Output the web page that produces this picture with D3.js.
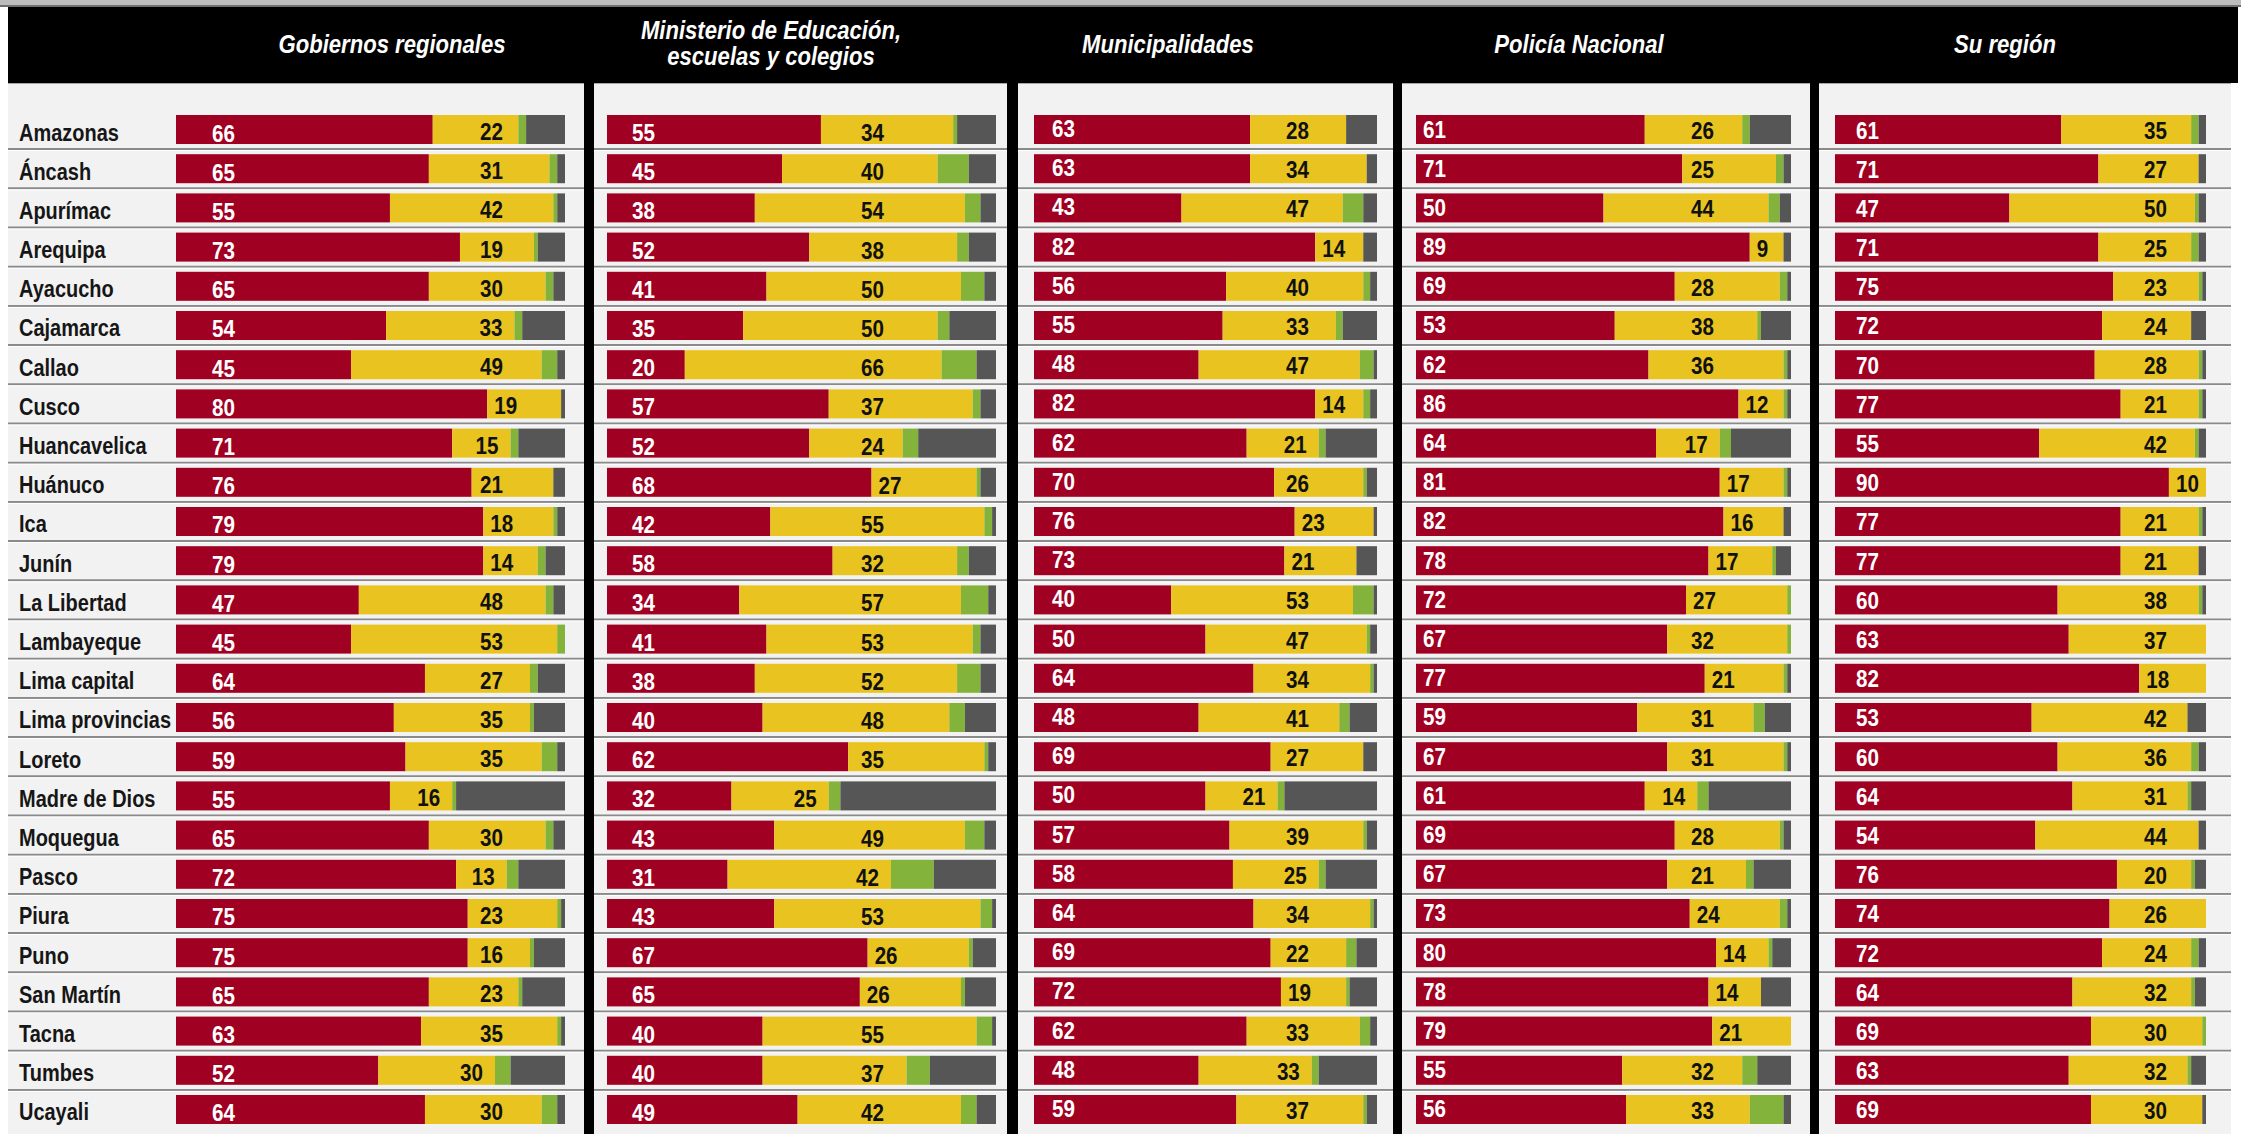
<!DOCTYPE html>
<html><head><meta charset="utf-8">
<script src="https://cdn.jsdelivr.net/npm/d3@7"></script>
<style>
html,body{margin:0;padding:0;background:#fff;}
svg{display:block;}
text{font-family:"Liberation Sans", Arial, "DejaVu Sans", sans-serif;font-weight:bold;}
</style></head><body>
<svg id="chart" width="2241" height="1134"></svg>
<script>
// ---------- DATA ----------
const regions = ["Amazonas","Áncash","Apurímac","Arequipa","Ayacucho","Cajamarca","Callao","Cusco","Huancavelica","Huánuco","Ica","Junín","La Libertad","Lambayeque","Lima capital","Lima provincias","Loreto","Madre de Dios","Moquegua","Pasco","Piura","Puno","San Martín","Tacna","Tumbes","Ucayali"];
const panelTitles = [["Gobiernos regionales"],["Ministerio de Educación,","escuelas y colegios"],["Municipalidades"],["Policía Nacional"],["Su región"]];
const seriesKeys = ["red","yellow","green","grey"];

const gobRed    = [66,65,55,73,65,54,45,80,71,76,79,79,47,45,64,56,59,55,65,72,75,75,65,63,52,64];
const gobYellow = [22,31,42,19,30,33,49,19,15,21,18,14,48,53,27,35,35,16,30,13,23,16,23,35,30,30];
const gobGreen  = [2,2,1,1,2,2,4,0,2,0,1,2,2,2,2,1,4,1,2,3,1,1,1,1,4,4];
const gobGrey   = [10,2,2,7,3,11,2,1,12,3,2,5,3,0,7,8,2,28,3,12,1,8,11,1,14,2];

const minRed    = [55,45,38,52,41,35,20,57,52,68,42,58,34,41,38,40,62,32,43,31,43,67,65,40,40,49];
const minYellow = [34,40,54,38,50,50,66,37,24,27,55,32,57,53,52,48,35,25,49,42,53,26,26,55,37,42];
const minGreen  = [1,8,4,3,6,3,9,2,4,1,2,3,7,2,6,4,1,3,5,11,3,1,1,4,6,4];
const minGrey   = [10,7,4,7,3,12,5,4,20,4,1,7,2,4,4,8,2,40,3,16,1,6,8,1,17,5];

const munRed    = [63,63,43,82,56,55,48,82,62,70,76,73,40,50,64,48,69,50,57,58,64,69,72,62,48,59];
const munYellow = [28,34,47,14,40,33,47,14,21,26,23,21,53,47,34,41,27,21,39,25,34,22,19,33,33,37];
const munGreen  = [0,0,6,0,2,2,4,2,2,1,0,0,6,1,1,3,0,2,1,2,1,3,1,3,2,1];
const munGrey   = [9,3,4,4,2,10,1,2,15,3,1,6,1,2,1,8,4,27,3,15,1,6,8,2,17,3];

const polRed    = [61,71,50,89,69,53,62,86,64,81,82,78,72,67,77,59,67,61,69,67,73,80,78,79,55,56];
const polYellow = [26,25,44,9,28,38,36,12,17,17,16,17,27,32,21,31,31,14,28,21,24,14,14,21,32,33];
const polGreen  = [2,2,3,0,2,1,1,1,3,1,0,1,1,1,1,3,1,3,1,2,2,1,0,0,4,9];
const polGrey   = [11,2,3,2,1,8,1,1,16,1,2,4,0,0,1,7,1,22,2,10,1,5,8,0,9,2];

const regRed    = [61,71,47,71,75,72,70,77,55,90,77,77,60,63,82,53,60,64,54,76,74,72,64,69,63,69];
const regYellow = [35,27,50,25,23,24,28,21,42,10,21,21,38,37,18,42,36,31,44,20,26,24,32,30,32,30];
const regGreen  = [2,0,1,2,1,0,1,1,1,0,1,0,1,0,0,0,2,1,0,1,0,2,1,1,1,0];
const regGrey   = [2,2,2,2,1,4,1,1,2,0,1,2,1,0,0,5,2,4,2,3,0,2,3,0,4,1];

const panelSeries = [
  [gobRed,gobYellow,gobGreen,gobGrey],
  [minRed,minYellow,minGreen,minGrey],
  [munRed,munYellow,munGreen,munGrey],
  [polRed,polYellow,polGreen,polGrey],
  [regRed,regYellow,regGreen,regGrey]
];

// ---------- LAYOUT / STYLE ----------
const W = 2241, H = 1134;
const colors = {red:"#a00022", yellow:"#e9c420", green:"#84b33c", grey:"#565656"};
const layout = [
  {box:[8,584],     bar:[176,565],   title:392,  redDx:36, redDy:26.5, yelEnd:503,  yelDy:25},
  {box:[594,1007],  bar:[607,996],   title:771,  redDx:25, redDy:26,   yelEnd:884,  yelDy:26},
  {box:[1018,1393], bar:[1034,1377], title:1168, redDx:18, redDy:22,   yelEnd:1309, yelDy:24},
  {box:[1402,1810], bar:[1416,1791], title:1579, redDx:7,  redDy:22.5, yelEnd:1714, yelDy:24},
  {box:[1819,2231], bar:[1835,2206], title:2005, redDx:21, redDy:23.5, yelEnd:2167, yelDy:24}
];
const SXN = 0.86, SXL = 0.85, SXH = 0.85;

const svg = d3.select("#chart");

// background structure
svg.append("rect").attr("x",0).attr("y",0).attr("width",W).attr("height",6).attr("fill","#bdbdbd");
svg.append("rect").attr("x",0).attr("y",5).attr("width",W).attr("height",2).attr("fill","#6f6f6f");
svg.append("rect").attr("x",8).attr("y",7).attr("width",2230).attr("height",76).attr("fill","#000");
svg.append("rect").attr("x",8).attr("y",82).attr("width",2223).attr("height",H-82).attr("fill","#000");

const y = d3.scaleBand().domain(regions).range([115,1124]).paddingInner(0.26).paddingOuter(0);
const bw = y.bandwidth();

layout.forEach((L,pi)=>{
  svg.append("rect").attr("x",L.box[0]).attr("y",83).attr("width",L.box[1]-L.box[0]).attr("height",H-83).attr("fill","#f2f2f2");
  svg.append("line").attr("x1",L.box[0]).attr("x2",L.box[1]).attr("y1",83.5).attr("y2",83.5).attr("stroke","#a5a5a5").attr("stroke-width",1);
});

// row separators
layout.forEach(L=>{
  regions.slice(0,-1).forEach(r=>{
    const yy = y(r) + bw + (y.step()-bw)/2;
    svg.append("line").attr("x1",L.box[0]).attr("x2",L.box[1]).attr("y1",yy).attr("y2",yy)
      .attr("stroke","#8a8a8a").attr("stroke-width",2);
    svg.append("line").attr("x1",L.box[0]).attr("x2",L.box[1]).attr("y1",yy+1.5).attr("y2",yy+1.5)
      .attr("stroke","#ffffff").attr("stroke-width",1);
  });
});

// region labels
svg.append("g").selectAll("text").data(regions).join("text")
  .attr("transform",d=>`translate(19,${y(d)+25.5}) scale(${SXL},1)`)
  .attr("font-size",23.5).attr("fill","#161616").text(d=>d);

// headers
layout.forEach((L,pi)=>{
  const lines = panelTitles[pi];
  const base = lines.length===1 ? [53] : [39,65];
  lines.forEach((t,i)=>{
    svg.append("text").attr("transform",`translate(${L.title},${base[i]}) scale(${SXH},1)`)
      .attr("text-anchor","middle").attr("font-size",26).attr("font-style","italic")
      .attr("fill","#fff").text(t);
  });
});

// bars
layout.forEach((L,pi)=>{
  const arrs = panelSeries[pi];
  const table = regions.map((r,i)=>({region:r, red:arrs[0][i], yellow:arrs[1][i], green:arrs[2][i], grey:arrs[3][i]}));
  const x = d3.scaleLinear().domain([0,100]).range(L.bar);
  const stack = d3.stack().keys(seriesKeys)(table);
  const g = svg.append("g");
  g.selectAll("g.s").data(stack).join("g").attr("class","s").attr("fill",s=>colors[s.key])
    .selectAll("rect").data(s=>s).join("rect")
      .attr("x",d=>x(d[0])).attr("width",d=>Math.max(0,x(d[1])-x(d[0])))
      .attr("y",d=>y(d.data.region)).attr("height",bw);

  // red value labels
  g.selectAll("text.r").data(table).join("text").attr("class","r")
    .attr("transform",d=>`translate(${x(0)+L.redDx},${y(d.region)+L.redDy}) scale(${SXN},1)`)
    .attr("font-size",24).attr("fill","#fff").text(d=>d.red);

  // yellow value labels
  table.forEach(d=>{
    const t = g.append("text").attr("font-size",24).attr("fill","#111").attr("text-anchor","end").text(d.yellow);
    const w = t.node().getComputedTextLength()*SXN;
    const ys = x(d.red), ye = x(d.red+d.yellow);
    let xe = Math.min(L.yelEnd, ye-12);
    if (xe - w < ys + 7) xe = ys + 7 + w;
    t.attr("transform",`translate(${xe},${y(d.region)+L.yelDy}) scale(${SXN},1)`);
  });
});
</script>
</body></html>
